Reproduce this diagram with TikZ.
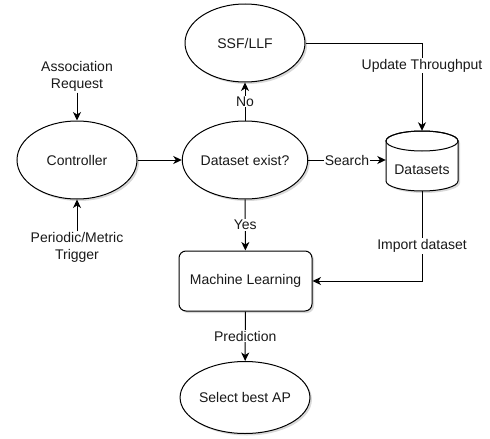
\documentclass[tikz,border=0pt]{standalone}
\usepackage{fontspec}
\setmainfont{Liberation Sans}
\usetikzlibrary{shapes.geometric,arrows.meta,shadows}
\begin{document}
\begin{tikzpicture}[x=1pt,y=-1pt,
  every node/.style={font=\fontsize{14}{17}\selectfont, text=black!90},
  shad/.style={drop shadow={opacity=0.3, shadow xshift=2pt, shadow yshift=-2pt}},
  ell/.style={ellipse, draw, line width=1pt, fill=white, shad, minimum width=120pt, minimum height=78pt, inner sep=0pt},
  box/.style={rectangle, rounded corners=7pt, draw, line width=1pt, fill=white, shad, minimum width=133pt, minimum height=60pt, inner sep=0pt},
  txt/.style={align=center, inner sep=1pt},
  lbl/.style={fill=white, inner sep=1pt},
  arr/.style={draw, line width=1pt, -{Stealth[length=8.5pt, width=8pt, inset=2.5pt]}}
]
\useasboundingbox (0,0) rectangle (490,439);

% nodes
\node[ell] (ssf) at (245,43) {SSF/LLF};
\node[ell] (ctrl) at (77,160) {Controller};
\node[ell] (de) at (245,160) {Dataset exist?};
\node[box] (ml) at (245.5,281) {Machine Learning};
\node[ell, minimum height=72pt] (sel) at (245,397.5) {Select best AP};
\node[txt] (assoc) at (77,76.5) {Association\\Request};
\node[txt] (trig) at (77,247.5) {Periodic/Metric\\Trigger};

% cylinder
\node[minimum width=72pt, minimum height=60pt, inner sep=0pt] (ds) at (422,161) {};
\path[draw, line width=1pt, fill=white, shad]
  (386,141) -- (386,181) arc[start angle=180, end angle=360, x radius=36pt, y radius=10pt]
  -- (458,141) arc[start angle=0, end angle=180, x radius=36pt, y radius=10pt] -- cycle;
\draw[line width=1pt] (422,141) ellipse [x radius=36pt, y radius=10pt];
\node (dstext) at (422,170) {Datasets};

% connectors
\draw[arr] (assoc) -- (ctrl);
\draw[arr] (trig) -- (ctrl);
\draw[arr] (ctrl) -- (de);
\draw[arr] (de) -- node[lbl]{Search} (de.east -| ds.west);
\draw[arr] (de) -- node[lbl]{No} (ssf);
\draw[arr] (ssf.east) -| node[lbl, pos=0.63]{Update Throughput} (ds.north);
\draw[arr] (de) -- node[lbl]{Yes} (ml);
\draw[arr] (ds.south) |- node[lbl, pos=0.305]{Import dataset} (ml.east);
\draw[arr] (ml) -- node[lbl]{Prediction} (sel);
\end{tikzpicture}
\end{document}
